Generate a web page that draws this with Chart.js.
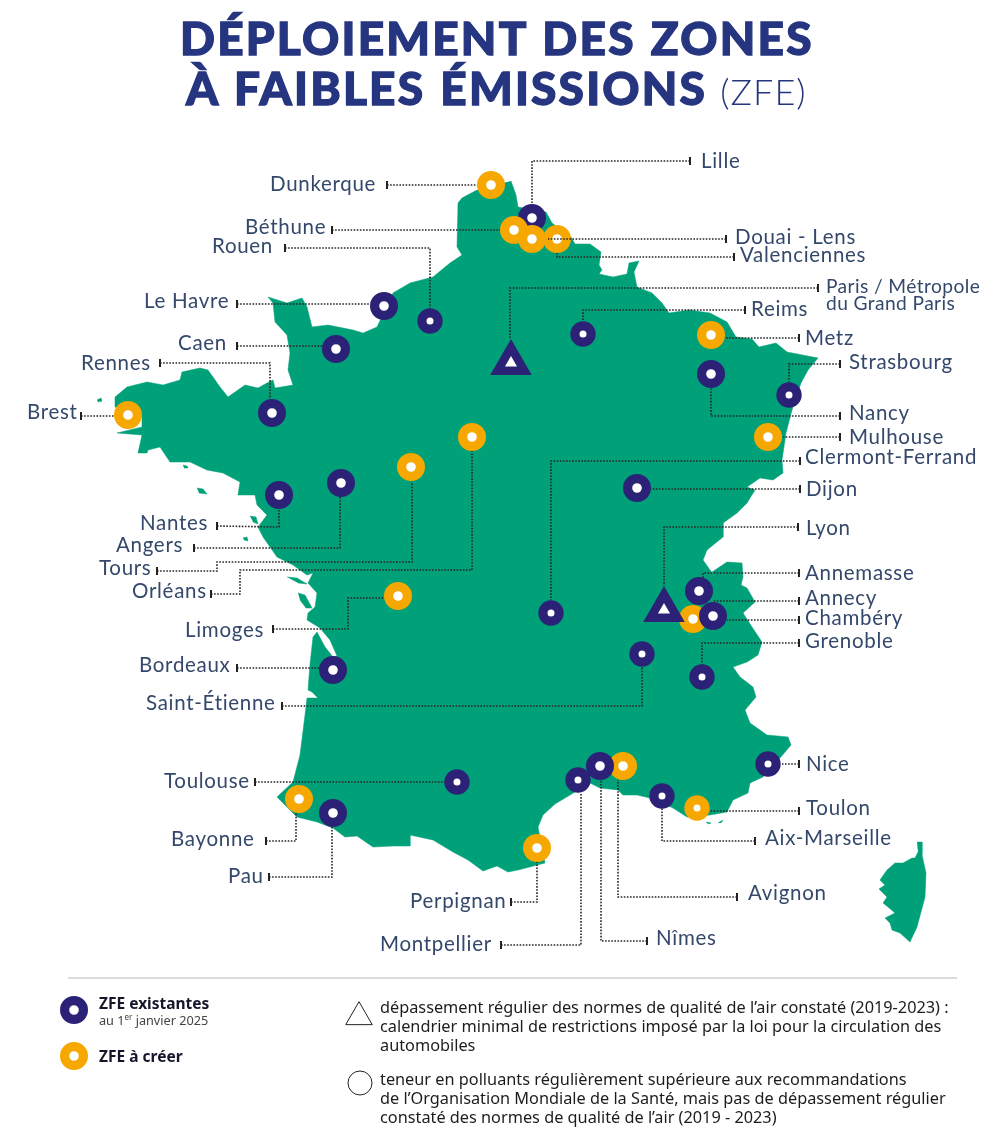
<!DOCTYPE html>
<html lang="fr">
<head>
<meta charset="utf-8">
<title>Déploiement des zones à faibles émissions (ZFE)</title>
<script src="https://cdn.jsdelivr.net/npm/chart.js@4"></script>
<style>
    html, body { margin: 0; padding: 0; background: #fff; }
    #page { position: relative; width: 1000px; height: 1141px; overflow: hidden; }
    #map { position: absolute; left: 0; top: 0; }
    .txt { position: absolute; white-space: nowrap; margin: 0; }
    .title { font: 900 46px Lato, sans-serif; color: #26357f; letter-spacing: 2.2px; word-spacing: 2px; line-height: 50px; -webkit-text-stroke: 1.3px #26357f; }
    .title span { font-weight: 300; font-size: 36px; letter-spacing: 1px; margin-left: -2px; -webkit-text-stroke: 0; }
    .key { font: 700 15.5px "Noto Sans", sans-serif; color: #15152b; line-height: 18px; }
    .sub { font: 400 12.7px "Noto Sans", sans-serif; color: #444; line-height: 16px; }
    .sub sup { font-size: 8px; line-height: 0; }
    .note { font: 400 16.3px "Noto Sans", sans-serif; color: #1c1c1c; line-height: 19px; }
</style>
</head>
<body>
<div id="page">
    <canvas id="map" width="1000" height="1141"></canvas>
    <h1 class="txt title" style="left:180px;top:13px">DÉPLOIEMENT DES ZONES</h1>
    <h1 class="txt title" style="left:186px;top:63px">À FAIBLES ÉMISSIONS <span>(ZFE)</span></h1>
    <div class="txt key" style="left:99px;top:994px">ZFE existantes</div>
    <div class="txt sub" style="left:99px;top:1012px">au 1<sup>er</sup> janvier 2025</div>
    <div class="txt key" style="left:99px;top:1047px">ZFE à créer</div>
    <div class="txt note" style="left:380px;top:998px">dépassement régulier des normes de qualité de l’air constaté (2019-2023) :<br>calendrier minimal de restrictions imposé par la loi pour la circulation des<br>automobiles</div>
    <div class="txt note" style="left:380px;top:1070px">teneur en polluants régulièrement supérieure aux recommandations<br>de l’Organisation Mondiale de la Santé, mais pas de dépassement régulier<br>constaté des normes de qualité de l’air (2019 - 2023)</div>
</div>
<script>
// map outlines
const mainland = [
    [511,181],[516,195],[518,207],[546,212],[552,223],[571,237],[575,244],[590,244],[601,252],[599,265],[602,270],[599,274],
    [613,277],[627,274],[629,263],[639,261],[634,272],[637,287],[652,293],[662,303],[669,313],[689,310],[710,313],[727,322],
    [736,337],[752,339],[759,347],[776,343],[787,352],[818,358],[808,370],[801,383],[792,410],[786,433],[782,460],[783,473],
    [773,480],[760,478],[747,487],[755,490],[747,503],[737,513],[723,523],[723,537],[707,550],[703,560],[710,570],[715,577],
    [712,572],[727,562],[742,563],[743,577],[741,585],[747,588],[755,602],[743,613],[752,627],[762,642],[758,655],[747,662],
    [733,667],[740,677],[753,687],[756,697],[745,710],[750,723],[767,735],[788,737],[791,745],[780,758],[763,777],[750,783],
    [748,793],[733,800],[727,812],[710,815],[687,817],[673,808],[650,798],[637,795],[623,795],[618,790],[600,788],[590,783],
    [570,795],[555,804],[543,815],[538,827],[545,863],[518,870],[508,872],[497,866],[483,871],[468,860],[453,852],[433,840],
    [410,835],[410,846],[393,846],[373,847],[357,836],[345,837],[333,828],[317,822],[297,817],[277,797],[293,782],[300,755],
    [306,707],[307,698],[318,698],[312,692],[308,690],[310,664],[313,637],[317,632],[325,647],[333,657],[337,656],[330,640],
    [320,628],[307,620],[308,613],[315,607],[317,593],[308,583],[313,573],[307,575],[293,565],[277,557],[263,537],[258,527],
    [267,515],[257,505],[255,495],[238,495],[240,482],[223,473],[207,470],[190,462],[170,462],[160,447],[148,450],[147,453],
    [138,453],[142,435],[117,433],[142,427],[142,417],[115,407],[115,397],[127,387],[147,382],[163,385],[180,380],[182,372],
    [200,368],[208,370],[220,387],[228,397],[245,385],[258,388],[267,383],[273,380],[275,388],[293,385],[288,370],[290,353],
    [287,335],[275,322],[273,303],[268,297],[287,303],[302,298],[307,307],[312,327],[328,325],[353,330],[363,333],[377,327],
    [393,293],[410,283],[433,277],[450,263],[462,255],[457,247],[458,203],[462,198],[477,190]
];
const corsica = [
    [917,842],[922,842],[922,855],[926,873],[925,897],[917,927],[910,942],[900,933],[892,930],[890,923],[885,918],[895,913],
    [888,907],[883,903],[887,897],[879,889],[885,885],[880,880],[887,870],[895,863],[903,863],[912,858],[915,858],[918,852]
];
const islands = [
    [[287,577],[297,578],[307,584],[298,583]],
    [[298,593],[305,595],[312,608],[306,608],[300,600]],
    [[243,538],[247,537],[248,541],[244,540]],
    [[250,516],[256,517],[258,524],[253,522]],
    [[197,488],[203,489],[207,494],[199,493]],
    [[183,465],[187,466],[188,468],[184,468]],
    [[97,400],[101,398],[102,401],[98,402]],
    [[706,822],[711,823],[708,824]],
    [[718,823],[723,820],[721,823]]
];

// cities, in drawing order
const cityNames = ["Dunkerque", "Lille", "Béthune", "Douai - Lens", "Valenciennes", "Rouen", "Le Havre", "Caen", "Rennes", "Brest",
    "Reims", "Metz", "Nancy", "Strasbourg", "Mulhouse", "Dijon", "Orléans", "Tours", "Angers", "Nantes", "Limoges", "Bordeaux",
    "Clermont-Ferrand", "Saint-Étienne", "Annemasse", "Chambéry", "Annecy", "Grenoble", "Nice", "Toulon", "Aix-Marseille",
    "Avignon", "Montpellier", "Nîmes", "Perpignan", "Toulouse", "Bayonne", "Pau"];
const cityX = [491, 532, 514, 532, 557, 430, 384, 336, 272, 128, 583, 711, 711, 789, 768, 637, 472, 411, 341, 279, 398, 333,
    551, 642, 699, 693, 713, 702, 768, 697, 662, 623, 578, 600, 537, 457, 299, 333];
const cityY = [185, 218, 230, 239, 239, 321, 306, 349, 413, 415, 334, 335, 374, 395, 437, 488, 437, 467, 483, 495, 596, 670,
    613, 654, 591, 619, 616, 677, 764, 808, 796, 766, 780, 766, 848, 782, 799, 813];
// 1 = ZFE existante, 0 = ZFE à créer
const cityExisting = [0, 1, 0, 0, 0, 1, 1, 1, 1, 0, 1, 0, 1, 1, 0, 1, 0, 0, 1, 1, 0, 1,
    1, 1, 1, 0, 1, 1, 1, 0, 1, 0, 1, 1, 0, 1, 0, 1];

// cities where the legal limits are exceeded
const exceedNames = ["Paris / Métropole du Grand Paris", "Lyon"];
const exceedX = [511, 664];
const exceedY = [363, 610];

// leader lines, first point is the end with the tick
const leaders = [
    [[387,185],[477,185]],
    [[690,161],[532,161],[532,205]],
    [[332,230],[500,230]],
    [[285,248],[430,248],[430,308]],
    [[237,304],[370,304]],
    [[237,346],[322,346]],
    [[160,363],[270,363],[270,399]],
    [[81,416],[114,416]],
    [[734,257],[557,257],[557,253]],
    [[818,288],[510,288],[510,338]],
    [[745,310],[583,310],[583,320]],
    [[799,338],[725,338]],
    [[840,364],[789,364],[789,382]],
    [[840,416],[711,416],[711,387]],
    [[840,437],[783,437]],
    [[800,461],[551,461],[551,600]],
    [[800,489],[650,489]],
    [[798,527],[664,527],[664,586]],
    [[799,573],[703,573],[703,578]],
    [[799,601],[713,601]],
    [[799,620],[727,620]],
    [[799,643],[702,643],[702,665]],
    [[799,764],[782,764]],
    [[799,811],[710,811]],
    [[755,841],[662,841],[662,808]],
    [[737,897],[618,897],[618,780]],
    [[647,941],[601,941],[601,780]],
    [[501,945],[581,945],[581,793]],
    [[511,902],[537,902],[537,862]],
    [[269,877],[332,877],[332,827]],
    [[266,841],[296,841],[296,813]],
    [[255,782],[445,782]],
    [[282,706],[642,706],[642,667]],
    [[237,668],[320,668]],
    [[273,629],[348,629],[348,598],[383,598]],
    [[211,594],[240,594],[240,570],[472,570],[472,450]],
    [[157,571],[217,571],[217,562],[412,562],[412,482]],
    [[194,548],[340,548],[340,497]],
    [[217,526],[279,527],[279,508]]
];
// this one runs over the Valenciennes mark
const douaiLeader = [[726,239],[548,239]];

const NAVY = "#2b2277";
const ORANGE = "#f6a800";
const GREEN = "#00a078";
const LABEL = "#34486b";
const smallMarks = ["Rouen", "Reims", "Strasbourg", "Clermont-Ferrand", "Saint-Étienne", "Grenoble", "Toulouse", "Montpellier", "Aix-Marseille", "Toulon", "Nice"];

const labelPos = {
    "Lille": [701, 161], "Dunkerque": [270, 184], "Béthune": [245, 227], "Rouen": [212, 246], "Douai - Lens": [735, 237],
    "Valenciennes": [740, 255], "Le Havre": [144, 301], "Caen": [178, 343], "Rennes": [81, 363], "Brest": [27, 412],
    "Reims": [751, 309], "Metz": [805, 338],
    "Strasbourg": [849, 362], "Nancy": [849, 413], "Mulhouse": [849, 437], "Clermont-Ferrand": [805, 457], "Dijon": [806, 489],
    "Lyon": [806, 528], "Annemasse": [805, 573], "Annecy": [805, 598], "Chambéry": [805, 618], "Grenoble": [805, 641],
    "Nantes": [140, 523], "Angers": [116, 545], "Tours": [99, 568], "Orléans": [132, 591], "Limoges": [185, 630],
    "Bordeaux": [139, 665], "Saint-Étienne": [146, 703], "Toulouse": [164, 781], "Bayonne": [171, 839], "Pau": [228, 876],
    "Perpignan": [410, 901], "Montpellier": [380, 944], "Nîmes": [656, 938], "Avignon": [748, 893], "Aix-Marseille": [765, 838],
    "Toulon": [806, 808], "Nice": [806, 764]
};
// the two line label is set a little smaller
const parisLabelPos = { "Paris / Métropole": [826, 287], "du Grand Paris": [826, 304] };

const toPoints = (list) => list.map((p) => ({ x: p[0], y: p[1] }));

function shape(list) {
    return {
        data: toPoints(list), showLine: true, fill: "shape", backgroundColor: GREEN, borderColor: GREEN,
        borderWidth: 0.5, pointRadius: 0, tension: 0, order: 10
    };
}
function dotted(list, order) {
    return {
        data: toPoints(list), showLine: true, fill: false, borderColor: "#262626", borderWidth: 1.6,
        borderDash: [1.6, 1.5], pointRadius: 0, tension: 0, order: order
    };
}

const cityPoints = cityNames.map((n, i) => ({ x: cityX[i], y: cityY[i] }));
const cityOuter = cityNames.map((n) => (smallMarks.includes(n) ? 12.7 : 14));

const labelPlugin = {
    id: "cityLabels",
    afterDatasetsDraw(chart) {
        const ctx = chart.ctx;
        const write = (positions) => {
            Object.keys(positions).forEach((name) => {
                const p = positions[name];
                ctx.fillText(name, chart.scales.x.getPixelForValue(p[0]), chart.scales.y.getPixelForValue(p[1]));
            });
        };
        ctx.save();
        ctx.fillStyle = LABEL;
        ctx.textBaseline = "middle";
        ctx.textAlign = "left";
        ctx.font = '400 20.5px Lato, sans-serif';
        ctx.letterSpacing = "0.7px";
        write(labelPos);
        ctx.font = '400 19.2px Lato, sans-serif';
        ctx.letterSpacing = "0.4px";
        write(parisLabelPos);
        ctx.restore();
    }
};

new Chart(document.getElementById("map"), {
    type: "scatter",
    data: {
        datasets: [
            shape(mainland),
            shape(corsica),
            ...islands.map(shape),
            // page separator
            { data: toPoints([[68, 978], [957, 978]]), showLine: true, borderColor: "#dcdcdc", borderWidth: 2, pointRadius: 0, order: 9 },
            ...leaders.map((l) => dotted(l, 8)),
            // ticks at the label end of each leader
            {
                data: toPoints(leaders.map((l) => l[0]).concat([douaiLeader[0]])), pointStyle: "line", rotation: 90,
                pointRadius: 4, pointBorderWidth: 2, borderColor: "#222", backgroundColor: "#222", order: 7
            },
            // ZFE marks
            {
                data: cityPoints, pointStyle: "circle",
                pointRadius: cityOuter.map((r) => r - 4.6),
                pointBorderWidth: 9.2,
                pointBackgroundColor: "#fff",
                pointBorderColor: cityExisting.map((e) => (e ? NAVY : ORANGE)),
                order: 5
            },
            dotted(douaiLeader, 4),
            {
                data: exceedX.map((x, i) => ({ x: x, y: exceedY[i] })), pointStyle: "triangle", pointRadius: 24,
                pointBorderWidth: 0, pointBackgroundColor: NAVY, order: 3
            },
            {
                data: exceedX.map((x, i) => ({ x: x, y: exceedY[i] })), pointStyle: "triangle", pointRadius: 7,
                pointBorderWidth: 0, pointBackgroundColor: "#fff", order: 2
            },
            // legend symbols
            {
                data: toPoints([[74, 1010], [74, 1056]]), pointStyle: "circle", pointRadius: 9.4, pointBorderWidth: 9.2,
                pointBackgroundColor: "#fff", pointBorderColor: [NAVY, ORANGE], order: 1
            },
            {
                data: toPoints([[359, 1017]]), pointStyle: "triangle", pointRadius: 15.3, pointBorderWidth: 1,
                pointBackgroundColor: "#fff", pointBorderColor: "#222", order: 1
            },
            {
                data: toPoints([[360, 1083]]), pointStyle: "circle", pointRadius: 12, pointBorderWidth: 1,
                pointBackgroundColor: "#fff", pointBorderColor: "#222", order: 1
            }
        ]
    },
    options: {
        responsive: false,
        animation: false,
        events: [],
        layout: { padding: 0, autoPadding: false },
        scales: {
            x: { type: "linear", min: 0, max: 1000, display: false },
            y: { type: "linear", min: 0, max: 1141, reverse: true, display: false }
        },
        plugins: { legend: { display: false }, tooltip: { enabled: false } }
    },
    plugins: [labelPlugin]
});
</script>
</body>
</html>
